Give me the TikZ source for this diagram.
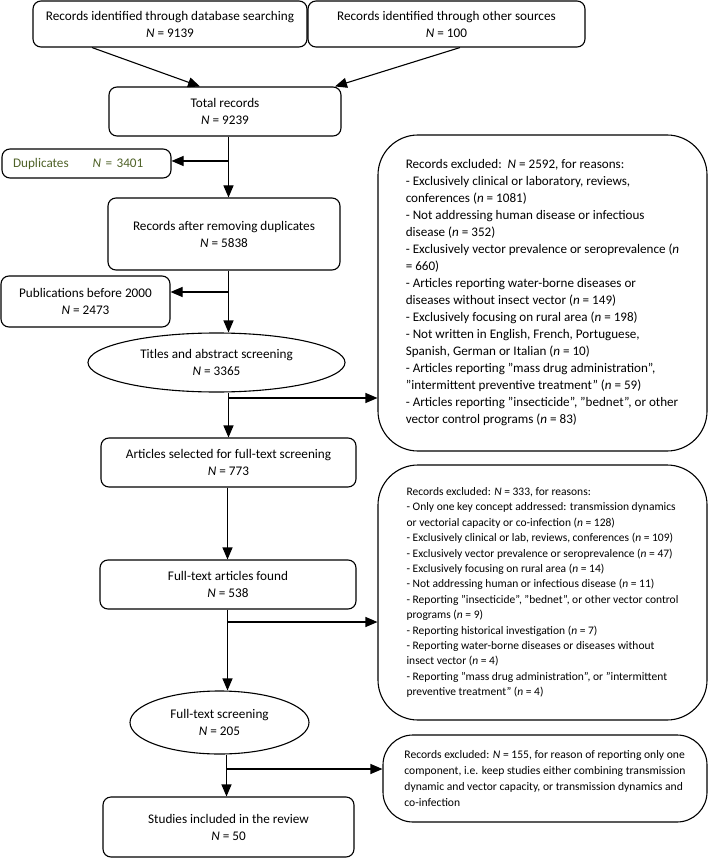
\documentclass[tikz,border=0pt]{standalone}
\usepackage{fontspec}
\setmainfont{Carlito}
\usetikzlibrary{shapes.geometric,arrows.meta}
\definecolor{dupgreen}{RGB}{79,98,40}
\begin{document}
\begin{tikzpicture}[x=1pt,y=-1pt,line width=1.1pt,
  flowbox/.style={draw, rounded corners=8pt, align=center, inner sep=0pt,
    font=\fontsize{13.2}{17}\selectfont},
  oval/.style={draw, ellipse, align=center, inner sep=0pt,
    font=\fontsize{13.2}{17}\selectfont},
  exbox/.style={draw, rounded corners=40pt, align=left, inner sep=0pt},
  arr/.style={-{Triangle[length=12pt,width=10pt]}}
]
\useasboundingbox (0,0) rectangle (709,858);

% main flow
\node[flowbox, minimum width=274pt, minimum height=46pt] (src1) at (170,24)
  {Records identified through database searching\\ \textit{N} = 9139};
\node[flowbox, minimum width=277pt, minimum height=46pt] (src2) at (446.5,24)
  {Records identified through other sources\\ \textit{N} = 100};
\node[flowbox, minimum width=232pt, minimum height=49pt] (total) at (225,111.5)
  {Total records\\ \textit{N} = 9239};
\node[flowbox, minimum width=169pt, minimum height=29pt, text width=147pt,
  align=left, text=dupgreen] (dup) at (86.5,163.5)
  {Duplicates\hspace{24pt}\textit{N} = 3401};
\node[flowbox, minimum width=232pt, minimum height=72pt] (after) at (224,234)
  {Records after removing duplicates\\ \textit{N} = 5838};
\node[flowbox, minimum width=169pt, minimum height=51pt] (pub) at (85.5,301.5)
  {Publications before 2000\\ \textit{N} = 2473};
\node[oval, minimum width=257pt, minimum height=59pt] (titles) at (216.5,362.5)
  {Titles and abstract screening\\ \textit{N} = 3365};
\node[flowbox, minimum width=255pt, minimum height=49pt] (sel) at (228.5,462.5)
  {Articles selected for full-text screening\\ \textit{N} = 773};
\node[flowbox, minimum width=256pt, minimum height=49pt] (found) at (228,584.5)
  {Full-text articles found\\ \textit{N} = 538};
\node[oval, minimum width=179pt, minimum height=63pt] (fts) at (219.5,722.5)
  {Full-text screening\\ \textit{N} = 205};
\node[flowbox, minimum width=251pt, minimum height=60pt] (incl) at (228.5,827)
  {Studies included in the review\\ \textit{N} = 50};

% exclusion boxes
\node[exbox, minimum width=329pt, minimum height=316pt,
  font=\fontsize{13.1}{17}\selectfont] (ex1) at (542.5,293)
  {Records excluded:\ \ \textit{N} = 2592, for reasons:\\
   - Exclusively clinical or laboratory, reviews,\\
   conferences (\textit{n} = 1081)\\
   - Not addressing human disease or infectious\\
   disease (\textit{n} = 352)\\
   - Exclusively vector prevalence or seroprevalence (\textit{n}\\
   = 660)\\
   - Articles reporting water-borne diseases or\\
   diseases without insect vector (\textit{n} = 149)\\
   - Exclusively focusing on rural area (\textit{n} = 198)\\
   - Not written in English, French, Portuguese,\\
   Spanish, German or Italian (\textit{n} = 10)\\
   - Articles reporting "mass drug administration",\\
   "intermittent preventive treatment" (\textit{n} = 59)\\
   - Articles reporting "insecticide", "bednet", or other\\
   vector control programs (\textit{n} = 83)};
\node[exbox, minimum width=329pt, minimum height=255pt,
  font=\fontsize{11.5}{15.4}\selectfont] (ex2) at (542.5,592.5)
  {Records excluded: \textit{N} = 333, for reasons:\\
   - Only one key concept addressed: transmission dynamics\\
   or vectorial capacity or co-infection (\textit{n} = 128)\\
   - Exclusively clinical or lab, reviews, conferences (\textit{n} = 109)\\
   - Exclusively vector prevalence or seroprevalence (\textit{n} = 47)\\
   - Exclusively focusing on rural area (\textit{n} = 14)\\
   - Not addressing human or infectious disease (\textit{n} = 11)\\
   - Reporting "insecticide", "bednet", or other vector control\\
   programs (\textit{n} = 9)\\
   - Reporting historical investigation (\textit{n} = 7)\\
   - Reporting water-borne diseases or diseases without\\
   insect vector (\textit{n} = 4)\\
   - Reporting "mass drug administration", or "intermittent\\
   preventive treatment" (\textit{n} = 4)};
\node[exbox, rounded corners=30pt, minimum width=324pt, minimum height=87pt,
  font=\fontsize{11.6}{16}\selectfont] (ex3) at (545,778.5)
  {Records excluded: \textit{N} = 155, for reason of reporting only one\\
   component, i.e. keep studies either combining transmission\\
   dynamic and vector capacity, or transmission dynamics and\\
   co-infection};

% trunk and junction coordinates
\coordinate (tx) at (228.5,0);
\coordinate (jd) at (228.5,161);
\coordinate (jp) at (228.5,292);
\coordinate (j1) at (228.5,398);
\coordinate (j2) at (227.5,622);
\coordinate (j3) at (226.5,769);

% connectors
\draw[arr] ([xshift=-78pt]src1.south) -- ([xshift=-25pt]total.north);
\draw[arr] ([xshift=13.5pt]src2.south) -- ([xshift=110pt]total.north);
\draw[arr] (total.south -| tx) -- (after.north -| tx);
\draw[arr] (jd) -- (jd -| dup.east);
\draw[arr] (after.south -| tx) -- (titles.north -| tx);
\draw[arr] (jp) -- (jp -| pub.east);
\draw[arr] (titles.south -| tx) -- (sel.north -| tx);
\draw[arr] (j1) -- (j1 -| ex1.west);
\draw[arr] (sel.south -| j2) -- (found.north -| j2);
\draw[arr] (found.south -| j2) -- (fts.north -| j2);
\draw[arr] (j2) -- (j2 -| ex2.west);
\draw[arr] (fts.south -| j3) -- (incl.north -| j3);
\draw[arr] (j3) -- (j3 -| ex3.west);
\end{tikzpicture}
\end{document}
